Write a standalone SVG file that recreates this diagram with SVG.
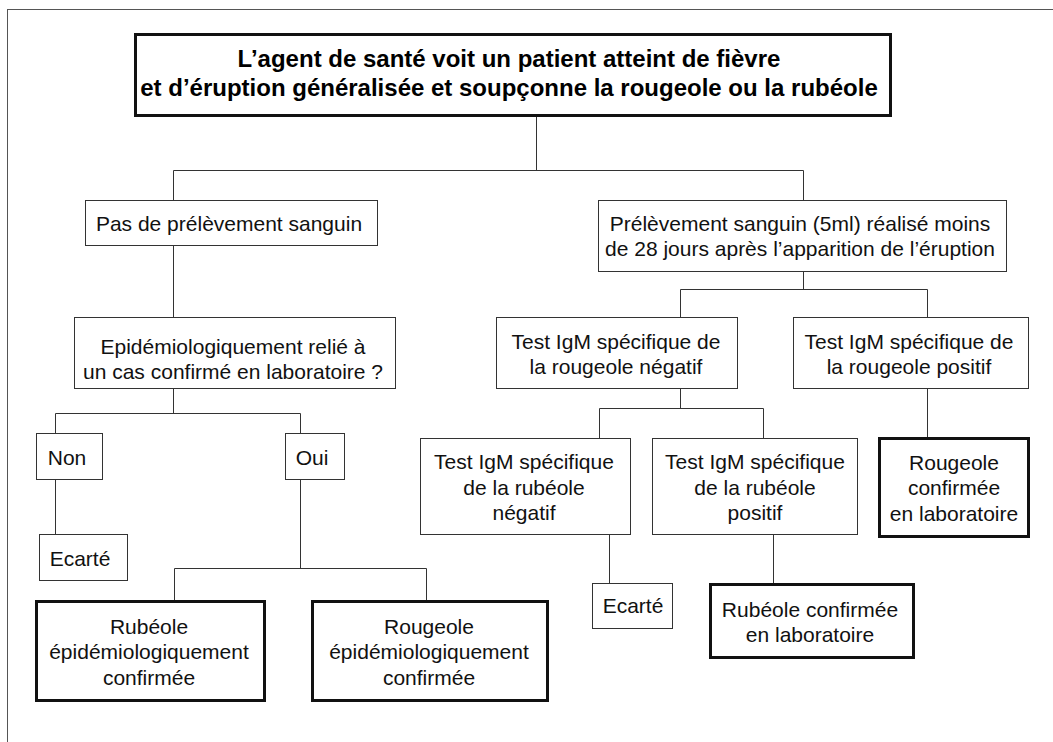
<svg xmlns="http://www.w3.org/2000/svg" width="1053" height="742" viewBox="0 0 1053 742">
<style>
.bg{fill:#fff}
.frame{fill:none;stroke:#555;stroke-width:1}
.box{fill:#fff;stroke:#333;stroke-width:1}
.thick{fill:#fff;stroke:#111;stroke-width:3}
.conn{fill:none;stroke:#333;stroke-width:1}
.t{font-family:"Liberation Sans",Arial,sans-serif;font-size:21px;fill:#111;text-anchor:middle}
.tb{font-family:"Liberation Sans",Arial,sans-serif;font-size:24px;font-weight:bold;fill:#000;text-anchor:middle}
</style>
<rect class="bg" x="0" y="0" width="1053" height="742"/>
<rect class="frame" x="7.5" y="9.5" width="1100" height="800"/>
<g id="connectors">
<path class="conn" d="M536.5 116 V170.5 M173.5 200 V170.5 H803.5 V200"/>
<path class="conn" d="M173.5 246 V317"/>
<path class="conn" d="M173.5 389 V413.5 M55.5 433 V413.5 H300.5 V433"/>
<path class="conn" d="M55.5 480 V534"/>
<path class="conn" d="M300.5 480 V568.5 M174.5 601 V568.5 H426.5 V601"/>
<path class="conn" d="M803.5 272 V289.5 M680.5 317 V289.5 H927.5 V317"/>
<path class="conn" d="M680.5 389 V408.5 M599.5 438 V408.5 H763.5 V438"/>
<path class="conn" d="M609.5 535 V583"/>
<path class="conn" d="M773.5 535 V584"/>
<path class="conn" d="M927.5 389 V438"/>
</g>
<g id="n-start">
<rect class="thick" x="135.5" y="34.5" width="755" height="81"/>
<text class="tb" x="509" y="67">L’agent de santé voit un patient atteint de fièvre</text>
<text class="tb" x="509" y="96">et d’éruption généralisée et soupçonne la rougeole ou la rubéole</text>
</g>
<g id="n-pas">
<rect class="box" x="85.5" y="200.5" width="292" height="45"/>
<text class="t" x="229" y="231">Pas de prélèvement sanguin</text>
</g>
<g id="n-prel">
<rect class="box" x="598.5" y="200.5" width="408" height="71"/>
<text class="t" x="800" y="231">Prélèvement sanguin (5ml) réalisé moins</text>
<text class="t" x="800" y="256">de 28 jours après l’apparition de l’éruption</text>
</g>
<g id="n-epid">
<rect class="box" x="74.5" y="317.5" width="321" height="71"/>
<text class="t" x="233" y="354">Epidémiologiquement relié à</text>
<text class="t" x="233" y="379">un cas confirmé en laboratoire ?</text>
</g>
<g id="n-non">
<rect class="box" x="36.5" y="433.5" width="66" height="46"/>
<text class="t" x="67" y="465">Non</text>
</g>
<g id="n-oui">
<rect class="box" x="285.5" y="433.5" width="59" height="46"/>
<text class="t" x="312" y="465">Oui</text>
</g>
<g id="n-ecarte1">
<rect class="box" x="39.5" y="534.5" width="88" height="46"/>
<text class="t" x="80" y="566">Ecarté</text>
</g>
<g id="n-rub-epid">
<rect class="thick" x="36.5" y="601.5" width="228" height="99"/>
<text class="t" x="149" y="634">Rubéole</text>
<text class="t" x="149" y="659">épidémiologiquement</text>
<text class="t" x="149" y="685">confirmée</text>
</g>
<g id="n-rou-epid">
<rect class="thick" x="312.5" y="601.5" width="235" height="99"/>
<text class="t" x="429" y="634">Rougeole</text>
<text class="t" x="429" y="659">épidémiologiquement</text>
<text class="t" x="429" y="685">confirmée</text>
</g>
<g id="n-rou-neg">
<rect class="box" x="496.5" y="317.5" width="241" height="71"/>
<text class="t" x="616" y="349">Test IgM spécifique de</text>
<text class="t" x="616" y="374">la rougeole négatif</text>
</g>
<g id="n-rou-pos">
<rect class="box" x="793.5" y="317.5" width="235" height="71"/>
<text class="t" x="909" y="349">Test IgM spécifique de</text>
<text class="t" x="909" y="374">la rougeole positif</text>
</g>
<g id="n-rub-neg">
<rect class="box" x="420.5" y="438.5" width="210" height="96"/>
<text class="t" x="524" y="469">Test IgM spécifique</text>
<text class="t" x="524" y="495">de la rubéole</text>
<text class="t" x="524" y="520">négatif</text>
</g>
<g id="n-rub-pos">
<rect class="box" x="652.5" y="438.5" width="205" height="96"/>
<text class="t" x="755" y="469">Test IgM spécifique</text>
<text class="t" x="755" y="495">de la rubéole</text>
<text class="t" x="755" y="520">positif</text>
</g>
<g id="n-ecarte2">
<rect class="box" x="592.5" y="583.5" width="80" height="45"/>
<text class="t" x="633" y="613">Ecarté</text>
</g>
<g id="n-rub-conf">
<rect class="thick" x="710.5" y="584.5" width="203" height="73"/>
<text class="t" x="810" y="617">Rubéole confirmée</text>
<text class="t" x="810" y="642">en laboratoire</text>
</g>
<g id="n-rou-conf">
<rect class="thick" x="879.5" y="438.5" width="149" height="98"/>
<text class="t" x="954" y="470">Rougeole</text>
<text class="t" x="954" y="495">confirmée</text>
<text class="t" x="954" y="521">en laboratoire</text>
</g>
</svg>
